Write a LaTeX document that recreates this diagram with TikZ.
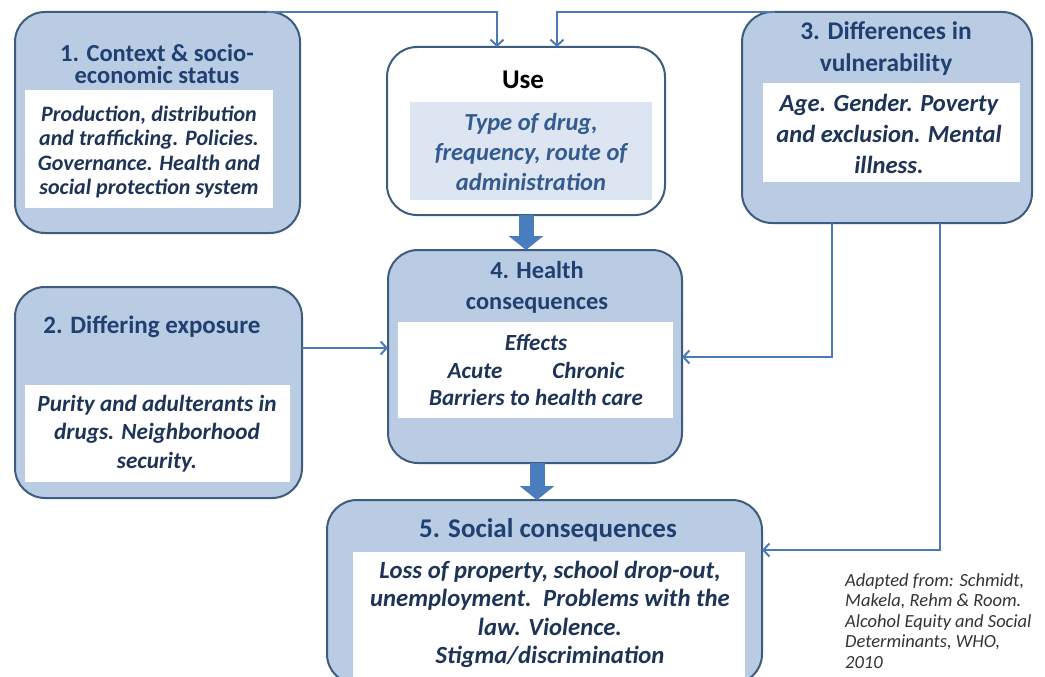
\documentclass[tikz,border=0pt]{standalone}
\usepackage{fontspec}
\setmainfont{Carlito}
\usetikzlibrary{arrows.meta}
\definecolor{boxfill}{HTML}{B9CCE4}
\definecolor{boxline}{HTML}{3E5C7E}
\definecolor{titlecol}{HTML}{1F4070}
\definecolor{bodycol}{HTML}{1E3457}
\definecolor{usebody}{HTML}{335B8F}
\definecolor{usefill}{HTML}{DCE5F1}
\definecolor{conncol}{HTML}{4A7BB7}
\definecolor{thickcol}{HTML}{4A7DBE}
\definecolor{citecol}{HTML}{333333}
\newcommand{\fs}[2]{\fontsize{#1}{#2}\selectfont}
\tikzset{
  outerbox/.style={draw=boxline, fill=boxfill, line width=2pt, rounded corners=30pt, inner sep=0pt, outer sep=0pt},
  usebox/.style={draw=boxline, fill=white, line width=2pt, rounded corners=30pt, inner sep=0pt, outer sep=0pt},
  innerbox/.style={fill=white, draw=none, inner sep=0pt, outer sep=0pt},
  useinner/.style={fill=usefill, draw=none, inner sep=0pt, outer sep=0pt},
  titletext/.style={text=titlecol, align=center, inner sep=0pt, font=\bfseries},
  bodytext/.style={text=bodycol, align=center, inner sep=0pt, font=\bfseries\itshape},
  conn/.style={draw=conncol, line width=2pt, -{Straight Barb[length=6pt,width=13pt,line width=2pt]}},
  thickarrow/.style={draw=thickcol, line width=15pt, -{Triangle[length=14pt,width=34pt]}},
}
\begin{document}
\begin{tikzpicture}[x=1pt,y=-1pt]
\useasboundingbox (0,0) rectangle (1045,677);
\clip (0,0) rectangle (1045,677);
\fill[white] (0,0) rectangle (1045,677);

% box 1
\node[outerbox, minimum width=285pt, minimum height=221pt] (b1) at (157.5,122.5) {};
\node[innerbox, minimum width=248pt, minimum height=118pt] (i1) at (149,149) {};
\node[titletext, font=\bfseries\fs{24.5}{22.5}] (t1) at (157,64) {1. Context \& socio-\\economic status};
\node[bodytext, font=\bfseries\itshape\fs{22}{24.5}] (d1) at (149,152) {Production, distribution\\and trafficking. Policies.\\Governance. Health and\\social protection system};

% use box
\node[usebox, minimum width=278pt, minimum height=168pt] (use) at (526,131) {};
\node[useinner, minimum width=242pt, minimum height=98pt] (iu) at (531,151) {};
\node[text=black, inner sep=0pt, font=\bfseries\fs{27}{27}] (tu) at (523,80) {Use};
\node[bodytext, text=usebody, font=\bfseries\itshape\fs{24.5}{30}] (du) at (531,152) {Type of drug,\\frequency, route of\\administration};

% box 3
\node[outerbox, minimum width=290pt, minimum height=211pt] (b3) at (887,117.5) {};
\node[innerbox, minimum width=257pt, minimum height=99pt] (i3) at (891.5,132.5) {};
\node[titletext, font=\bfseries\fs{25.4}{32}] (t3) at (886,49) {3. Differences in\\vulnerability};
\node[bodytext, font=\bfseries\itshape\fs{24.6}{31}] (d3) at (889,134) {Age. Gender. Poverty\\and exclusion. Mental\\illness.};

% box 2
\node[outerbox, minimum width=287pt, minimum height=211pt] (b2) at (158.5,392.5) {};
\node[innerbox, minimum width=265pt, minimum height=97pt] (i2) at (157.5,433.5) {};
\node[titletext, font=\bfseries\fs{25}{25}] (t2) at (152,327) {2. Differing exposure};
\node[bodytext, font=\bfseries\itshape\fs{23.2}{28.5}] (d2) at (157,433.5) {Purity and adulterants in\\drugs. Neighborhood\\security.};

% box 4
\node[outerbox, minimum width=294pt, minimum height=213pt] (b4) at (535,356.5) {};
\node[innerbox, minimum width=275pt, minimum height=96pt] (i4) at (535.5,370) {};
\node[titletext, font=\bfseries\fs{24.4}{31}] (t4) at (537,287.5) {4. Health\\consequences};
\node[bodytext, font=\bfseries\itshape\fs{23.1}{27.5}] (d4) at (536,370) {Effects\\Acute\hspace*{50pt}Chronic\\Barriers to health care};

% box 5 (runs past the lower edge)
\node[outerbox, minimum width=435pt, minimum height=184pt] (b5) at (544.5,592) {};
\node[innerbox, minimum width=392pt, minimum height=138pt] (i5) at (549,621) {};
\node[titletext, font=\bfseries\fs{27}{27}] (t5) at (548,530) {5. Social consequences};
\node[bodytext, font=\bfseries\itshape\fs{24.7}{28.3}] (d5) at (550,614.5) {Loss of property, school drop-out,\\unemployment.\, Problems with the\\law. Violence.\\Stigma/discrimination};

% citation
\node[text=citecol, align=left, anchor=west, inner sep=0pt, font=\itshape\fs{18.5}{20.5}] (cite) at (845,621) {Adapted from: Schmidt,\\Makela, Rehm \& Room.\\Alcohol Equity and Social\\Determinants, WHO,\\2010};

% helper coordinates
\coordinate (h1) at (497,12);
\coordinate (h2) at (557,12);
\coordinate (y2) at (0,348);
\coordinate (v1) at (832,357);
\coordinate (v2) at (940,550);

% thin connectors
\draw[conn] ([xshift=-33pt]b1.north east) -| (h1 |- use.north);
\draw[conn] ([xshift=33pt]b3.north west) -| (h2 |- use.north);
\draw[conn] (b2.east |- y2) -- (b4.west |- y2);
\draw[conn] (v1 |- b3.south) |- (b4.east |- v1);
\draw[conn] (v2 |- b3.south) |- (b5.east |- v2);

% thick arrows
\draw[thickarrow] (use.south) -- (use.south |- b4.north);
\draw[thickarrow] ([xshift=2pt]b4.south) -- ([xshift=2pt]b4.south |- b5.north);
\end{tikzpicture}
\end{document}
